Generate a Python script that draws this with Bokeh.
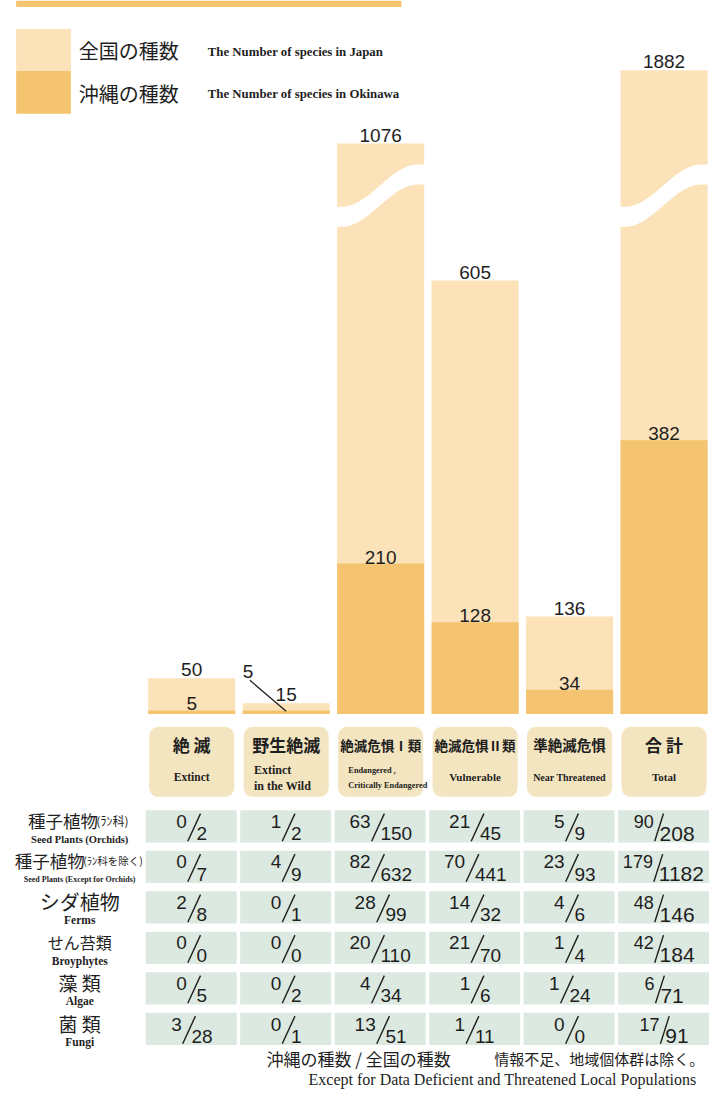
import numpy as np
from bokeh.plotting import figure
from bokeh.models import Range1d
from bokeh.core.properties import value
from bokeh.embed import file_html
from bokeh.resources import INLINE

# ---------------- data ----------------
categories_ja = ["絶 滅", "野生絶滅", "絶滅危惧Ⅰ類", "絶滅危惧Ⅱ類", "準絶滅危惧", "合 計"]
categories_en = ["Extinct", "Extinct\nin the Wild", "Endangered ,\nCritically Endangered",
                 "Vulnerable", "Near Threatened", "Total"]
japan = [50, 15, 1076, 605, 136, 1882]
okinawa = [5, 5, 210, 128, 34, 382]

groups_ja = ["種子植物", "種子植物", "シダ植物", "せん苔類", "藻 類", "菌 類"]
groups_ja_sub = ["(ﾗﾝ科)", "(ﾗﾝ科を除く)", "", "", "", ""]
groups_en = ["Seed Plants (Orchids)", "Seed Plants (Except for Orchids)", "Ferms",
             "Broyphytes", "Algae", "Fungi"]
okinawa_table = [[0, 1, 63, 21, 5, 90],
                 [0, 4, 82, 70, 23, 179],
                 [2, 0, 28, 14, 4, 48],
                 [0, 0, 20, 21, 1, 42],
                 [0, 0, 4, 1, 1, 6],
                 [3, 0, 13, 1, 0, 17]]
japan_table = [[2, 2, 150, 45, 9, 208],
               [7, 9, 632, 441, 93, 1182],
               [8, 1, 99, 32, 6, 146],
               [0, 0, 110, 70, 4, 184],
               [5, 2, 34, 6, 24, 71],
               [28, 1, 51, 11, 0, 91]]

legend_ja = ["全国の種数", "沖縄の種数"]
legend_en = ["The Number of  species  in Japan", "The Number of  species  in Okinawa"]
note_ja = ["沖縄の種数 / 全国の種数", "情報不足、地域個体群は除く。"]
note_en = "Except  for Data Deficient and Threatened Local Populations"

# ---------------- style / layout ----------------
LIGHT = "#FBE2B8"
DARK = "#F5C470"
BOX = "#F3E5C0"
CELL = "#DCE9E1"
INK = "#1e1e1e"
JP = "Noto Sans CJK JP"
SERIF = "Liberation Serif"
SANS = "Liberation Sans"

W_REF, H_REF = 726, 1108
X0, PITCH, BAR_W = 195.5, 96.6, 89
BASE_PX, PX_PER_UNIT = 724, 0.727
BREAK_B, BREAK_C = 650, 7.08          # compressed (broken) scale above BREAK_B
WAVE_LO, WAVE_HI, WAVE_HALF = 694, 753, 14
ROW0, ROWP = 838, 41.1

def disp(v):
    return v if v <= BREAK_B else BREAK_B + BREAK_C * np.sqrt(v - BREAK_B)

xc = [X0 + i * PITCH for i in range(len(japan))]
jdisp = [disp(v) for v in japan]

p = figure(width=710, height=1092, x_range=Range1d(0, W_REF), y_range=Range1d(H_REF, 0),
           x_axis_type=None, y_axis_type=None, toolbar_location=None,
           output_backend="svg", min_border=0)
p.outline_line_color = None
p.background_fill_color = "white"
p.extra_y_ranges = {"val": Range1d(start=(BASE_PX - H_REF) / PX_PER_UNIT,
                                   end=BASE_PX / PX_PER_UNIT)}

# top band (title bar remnant)
p.quad(left=[16], right=[410], top=[0], bottom=[6.5], fill_color=DARK, line_color=None)

# legend
p.quad(left=[16, 16], right=[72, 72], top=[29, 71.5], bottom=[71.5, 115],
       fill_color=[LIGHT, DARK], line_color=None)
p.text(x=[80, 80], y=[51, 94], text=legend_ja, text_font=value(JP), text_font_size="20px",
       text_baseline="middle", text_color=INK)
p.text(x=[212, 212], y=[52, 95], text=legend_en, text_font=value(SERIF), text_font_size="12.8px",
       text_font_style="bold", text_baseline="middle", text_color=INK)

# bars
p.vbar(x=xc, width=BAR_W, top=jdisp, bottom=0, y_range_name="val",
       fill_color=LIGHT, line_color=None)
p.vbar(x=xc, width=BAR_W, top=okinawa, bottom=0, y_range_name="val",
       fill_color=DARK, line_color=None)

# break waves
t = np.linspace(0, 1, 60)
ease = 0.5 - 0.5 * np.cos(np.pi * np.clip((t - 0.06) / 0.86, 0, 1))
wx, wy = [], []
for i, v in enumerate(japan):
    if v > BREAK_B:
        xs = xc[i] - BAR_W / 2 - 1 + t * (BAR_W + 2)
        c = WAVE_LO + (WAVE_HI - WAVE_LO) * ease
        wx.append(list(xs) + list(xs[::-1]))
        wy.append(list(c + WAVE_HALF) + list((c - WAVE_HALF)[::-1]))
p.patches(xs=wx, ys=wy, y_range_name="val", fill_color="white", line_color=None)

# value labels
p.text(x=xc, y=jdisp, text=[str(v) for v in japan], y_range_name="val", y_offset=-2,
       text_align="center", text_baseline="bottom", text_font=value(SANS),
       text_font_size="19px", text_color=INK)
in_x, in_y, in_t = [], [], []
lead_x, lead_y, lead_t, seg = [], [], [], []
for i, (j, o) in enumerate(zip(japan, okinawa)):
    if disp(j) - o >= 20:
        in_x.append(xc[i]); in_y.append(o); in_t.append(str(o))
    else:
        lead_x.append(xc[i] - 39); lead_y.append(o + 55); lead_t.append(str(o))
        seg.append((xc[i] - 37, o + 42, xc[i], o - 1))
p.text(x=in_x, y=in_y, text=in_t, y_range_name="val", text_align="center",
       text_baseline="bottom", text_font=value(SANS), text_font_size="19px", text_color=INK)
p.text(x=lead_x, y=lead_y, text=lead_t, y_range_name="val", text_align="center",
       text_baseline="middle", text_font=value(SANS), text_font_size="19px", text_color=INK)
p.segment(x0=[s[0] for s in seg], y0=[s[1] for s in seg], x1=[s[2] for s in seg],
          y1=[s[3] for s in seg], y_range_name="val", line_color=INK, line_width=1.3)

# category boxes
p.quad(left=[x - 43.5 for x in xc], right=[x + 43.5 for x in xc], top=737, bottom=808,
       fill_color=BOX, line_color=None, border_radius=9)
ja_sizes = ["17px", "17px", "13.5px", "13.5px", "14.5px", "17px"]
for i, s in enumerate(categories_ja):
    p.text(x=[xc[i]], y=[755], text=[s], text_align="center", text_baseline="middle",
           text_font=value(JP), text_font_size=ja_sizes[i], text_font_style="bold",
           text_color=INK)
en_sizes = ["11.5px", "12px", "8.3px", "11px", "10px", "11px"]
for i, s in enumerate(categories_en):
    lines = s.split("\n")
    if len(lines) == 1:
        p.text(x=[xc[i]], y=[788], text=lines, text_align="center", text_baseline="middle",
               text_font=value(SERIF), text_font_size=en_sizes[i], text_font_style="bold",
               text_color=INK)
    else:
        p.text(x=[xc[i] - 33] * 2, y=[781, 797], text=lines, text_align="left",
               text_baseline="middle", text_font=value(SERIF), text_font_size=en_sizes[i],
               text_font_style="bold", text_color=INK)

# table cells
cl, cr, ct, cb = [], [], [], []
for r in range(len(groups_ja)):
    cy = ROW0 + r * ROWP
    for c in range(len(categories_ja)):
        cl.append(xc[c] - 47); cr.append(xc[c] + 46)
        ct.append(cy - 16.3); cb.append(cy + 16.3)
p.quad(left=cl, right=cr, top=ct, bottom=cb, fill_color=CELL, line_color=None)

# fractions (Okinawa / Japan)
for total in (False, True):
    nx, ny, nt, dx, dy, dt = [], [], [], [], [], []
    s0x, s0y, s1x, s1y = [], [], [], []
    for r in range(len(groups_ja)):
        cy = ROW0 + r * ROWP
        for c in range(len(categories_ja)):
            if (c == len(categories_ja) - 1) != total:
                continue
            n, d = str(okinawa_table[r][c]), str(japan_table[r][c])
            if total:
                dwn, dwd, gap = 10.0, 11.7, 6
            else:
                dwn, dwd, gap = 10.4, 10.4, 10
            W = len(n) * dwn + gap + len(d) * dwd
            nr = xc[c] - W / 2 + len(n) * dwn
            nx.append(nr); ny.append(cy - 5); nt.append(n)
            dx.append(nr + gap); dy.append(cy + 7.5); dt.append(d)
            s0x.append(nr + 1); s0y.append(cy + 15); s1x.append(nr + gap + 4); s1y.append(cy - 13)
    p.text(x=nx, y=ny, text=nt, text_align="right", text_baseline="middle",
           text_font=value(SANS), text_font_size="18px" if total else "19px", text_color=INK)
    p.text(x=dx, y=dy, text=dt, text_align="left", text_baseline="middle",
           text_font=value(SANS), text_font_size="21px" if total else "19px", text_color=INK)
    p.segment(x0=s0x, y0=s0y, x1=s1x, y1=s1y, line_color=INK, line_width=1.4)

# row labels
gja_sizes = [17.5, 17.5, 20, 16, 19, 19]
gsub_sizes = [12, 10.5, 0, 0, 0, 0]
gen_sizes = ["10.5px", "8px", "11.5px", "11.5px", "11.5px", "11.5px"]
for r in range(len(groups_ja)):
    cy = ROW0 + r * ROWP
    if groups_ja_sub[r]:
        mw = len(groups_ja[r]) * gja_sizes[r]
        sw = (sum(0.5 if ch in "()ﾗﾝ" else 1.0 for ch in groups_ja_sub[r])) * gsub_sizes[r]
        left = 81 - (mw + sw) / 2
        p.text(x=[left], y=[cy - 6], text=[groups_ja[r]], text_align="left",
               text_baseline="middle", text_font=value(JP),
               text_font_size=f"{gja_sizes[r]}px", text_color=INK)
        p.text(x=[left + mw], y=[cy - 6], text=[groups_ja_sub[r]], text_align="left",
               text_baseline="middle", text_font=value(JP),
               text_font_size=f"{gsub_sizes[r]}px", text_color=INK)
    else:
        p.text(x=[81], y=[cy - 6], text=[groups_ja[r]], text_align="center",
               text_baseline="middle", text_font=value(JP),
               text_font_size=f"{gja_sizes[r]}px", text_color=INK)
    p.text(x=[81], y=[cy + 13], text=[groups_en[r]], text_align="center",
           text_baseline="middle", text_font=value(SERIF), text_font_size=gen_sizes[r],
           text_font_style="bold", text_color=INK)

# footnotes
p.text(x=[272], y=[1074], text=[note_ja[0]], text_baseline="middle",
       text_font=value(JP), text_font_size="17px", text_color=INK)
p.text(x=[505], y=[1074], text=[note_ja[1]], text_baseline="middle",
       text_font=value(JP), text_font_size="15px", text_color=INK)
p.text(x=[315], y=[1095], text=[note_en], text_baseline="middle",
       text_font=value(SERIF), text_font_size="16px", text_color=INK)

open("out.html", "w").write(file_html(p, INLINE))
